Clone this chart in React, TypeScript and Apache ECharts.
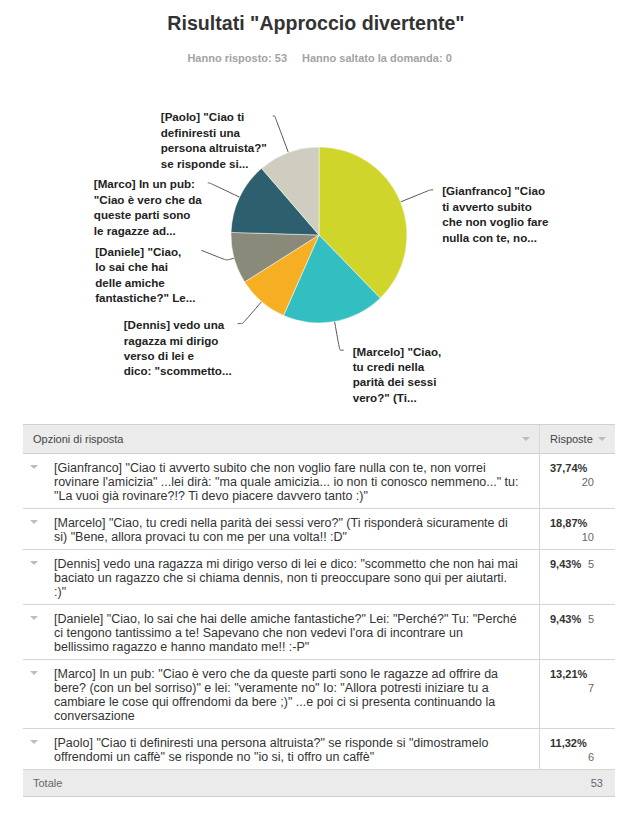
import React, { useEffect, useRef } from "react";
import * as echarts from "echarts";

// ---------- data ----------
const titleText = 'Risultati "Approccio divertente"';
const answeredText = "Hanno risposto: 53";
const skippedText = "Hanno saltato la domanda: 0";

const names = ["Gianfranco", "Marcelo", "Dennis", "Daniele", "Marco", "Paolo"];
const counts = [20, 10, 5, 5, 7, 6];
const percentLabels = ["37,74%", "18,87%", "9,43%", "9,43%", "13,21%", "11,32%"];
const totalLabel = "Totale";
const totalCount = 53;

const pieLabels = [
  '[Gianfranco] "Ciao\nti avverto subito\nche non voglio fare\nnulla con te, no...',
  '[Marcelo] "Ciao,\ntu credi nella\nparità dei sessi\nvero?" (Ti...',
  '[Dennis] vedo una\nragazza mi dirigo\nverso di lei e\ndico: "scommetto...',
  '[Daniele] "Ciao,\nlo sai che hai\ndelle amiche\nfantastiche?" Le...',
  '[Marco] In un pub:\n"Ciao è vero che da\nqueste parti sono\nle ragazze ad...',
  '[Paolo] "Ciao ti\ndefiniresti una\npersona altruista?"\nse risponde si...',
];

const answers = [
  '[Gianfranco] "Ciao ti avverto subito che non voglio fare nulla con te, non vorrei\nrovinare l\'amicizia" ...lei dirà: "ma quale amicizia... io non ti conosco nemmeno..." tu:\n"La vuoi già rovinare?!? Ti devo piacere davvero tanto :)"',
  '[Marcelo] "Ciao, tu credi nella parità dei sessi vero?" (Ti risponderà sicuramente di\nsi) "Bene, allora provaci tu con me per una volta!! :D"',
  '[Dennis] vedo una ragazza mi dirigo verso di lei e dico: "scommetto che non hai mai\nbaciato un ragazzo che si chiama dennis, non ti preoccupare sono qui per aiutarti.\n:)"',
  '[Daniele] "Ciao, lo sai che hai delle amiche fantastiche?" Lei: "Perché?" Tu: "Perché\nci tengono tantissimo a te! Sapevano che non vedevi l\'ora di incontrare un\nbellissimo ragazzo e hanno mandato me!! :-P"',
  '[Marco] In un pub: "Ciao è vero che da queste parti sono le ragazze ad offrire da\nbere? (con un bel sorriso)" e lei: "veramente no" Io: "Allora potresti iniziare tu a\ncambiare le cose qui offrendomi da bere ;)" ...e poi ci si presenta continuando la\nconversazione',
  '[Paolo] "Ciao ti definiresti una persona altruista?" se risponde si "dimostramelo\noffrendomi un caffè" se risponde no "io si, ti offro un caffè"',
];

const headerLeft = "Opzioni di risposta";
const headerRight = "Risposte";

// ---------- styles ----------
const colors = ["#d0d52b", "#33bec1", "#f6ae22", "#8a8a7a", "#2d5f6e", "#cfcdbf"];
const lineLengths: [number, number][] = [
  [32, 3],
  [29, 4],
  [29, 5],
  [8, 25],
  [33, 2],
  [39, 2],
];
// extra vertical nudge of a label (and its connector end), in px
const labelNudgeY = [0, 0, 0, -10, 0, 0];
const FONT = '"Liberation Sans", Arial, Helvetica, sans-serif';
const LABEL_LH = 15.4;

function Tri({ left, top }: { left: number; top: number }) {
  return (
    <div
      style={{
        position: "absolute",
        left,
        top,
        width: 0,
        height: 0,
        borderLeft: "4px solid transparent",
        borderRight: "4px solid transparent",
        borderTop: "4px solid #bdbdbd",
      }}
    />
  );
}

function Table() {
  const border = "1px solid #d6d6d6";
  return (
    <div
      style={{
        position: "absolute",
        left: 23,
        top: 424,
        width: 592,
        fontFamily: FONT,
        color: "#333",
      }}
    >
      <div
        style={{
          position: "relative",
          height: 28,
          background: "#ebebeb",
          borderTop: "1px solid #d0d0d0",
          borderBottom: "1px solid #d0d0d0",
          display: "flex",
        }}
      >
        <div style={{ width: 516, position: "relative", fontSize: 11, lineHeight: "28px", color: "#444" }}>
          <span style={{ marginLeft: 10 }}>{headerLeft}</span>
          <Tri left={499} top={12} />
        </div>
        <div
          style={{
            width: 75,
            borderLeft: "1px solid #d9d9d9",
            position: "relative",
            fontSize: 11,
            lineHeight: "28px",
            color: "#444",
          }}
        >
          <span style={{ marginLeft: 10 }}>{headerRight}</span>
          <Tri left={58} top={12} />
        </div>
      </div>
      {answers.map((a, i) => {
        const inline = percentLabels[i].length <= 5;
        return (
          <div key={i} style={{ display: "flex", borderBottom: border }}>
            <div style={{ width: 516, position: "relative", padding: "7px 0 5px 0" }}>
              <Tri left={7} top={11} />
              <div
                style={{
                  marginLeft: 31,
                  whiteSpace: "pre",
                  fontSize: 12.5,
                  lineHeight: "14px",
                }}
              >
                {a}
              </div>
            </div>
            <div style={{ width: 65, borderLeft: border, padding: "7px 0 5px 10px" }}>
              <div style={{ width: 44, position: "relative", lineHeight: "14px", height: inline ? 14 : 28 }}>
                <span style={{ position: "absolute", left: 0, top: 0, fontWeight: "bold", fontSize: 11 }}>
                  {percentLabels[i]}
                </span>
                <span
                  style={{
                    position: "absolute",
                    right: 0,
                    top: inline ? 0 : 14,
                    fontSize: 11,
                    color: "#666",
                  }}
                >
                  {counts[i]}
                </span>
              </div>
            </div>
          </div>
        );
      })}
      <div
        style={{
          height: 26,
          background: "#ebebeb",
          borderBottom: "1px solid #d0d0d0",
          display: "flex",
          fontSize: 11,
          lineHeight: "26px",
          color: "#666",
        }}
      >
        <div style={{ width: 516, paddingLeft: 10 }}>{totalLabel}</div>
        <div style={{ width: 54, textAlign: "right" }}>{totalCount}</div>
      </div>
    </div>
  );
}

export default function App() {
  const ref = useRef<HTMLDivElement>(null);
  useEffect(() => {
    if (!ref.current) return;
    const chart = echarts.init(ref.current, null, { renderer: "svg" });
    const option: any = {
      animation: false,
      graphic: [
        {
          type: "text",
          left: "center",
          top: 13,
          style: {
            text: titleText,
            fontFamily: FONT,
            fontWeight: "bold",
            fontSize: 19.6,
            fill: "#333",
          },
        },
        {
          type: "text",
          x: 287,
          y: 58,
          style: {
            text: answeredText,
            fontFamily: FONT,
            fontWeight: "bold",
            fontSize: 11,
            fill: "#a3a3a3",
            align: "right",
            verticalAlign: "middle",
          },
        },
        {
          type: "text",
          x: 302,
          y: 58,
          style: {
            text: skippedText,
            fontFamily: FONT,
            fontWeight: "bold",
            fontSize: 11,
            fill: "#a3a3a3",
            align: "left",
            verticalAlign: "middle",
          },
        },
      ],
      series: [
        {
          type: "pie",
          center: [319, 235],
          radius: 88,
          startAngle: 90,
          clockwise: true,
          avoidLabelOverlap: false,
          emphasis: { disabled: true },
          itemStyle: { borderColor: "#ffffff", borderWidth: 0.5 },
          label: {
            show: true,
            position: "outside",
            formatter: (p: any) => pieLabels[p.dataIndex],
            color: "#222",
            fontFamily: FONT,
            fontWeight: "bold",
            fontSize: 11.6,
            lineHeight: LABEL_LH,
            distanceToLabelLine: 6,
          },
          labelLine: {
            show: true,
            smooth: 0.2,
            lineStyle: { color: "#555", width: 1 },
          },
          labelLayout: (params: any) => {
            const pts = params.labelLinePoints;
            if (!pts || !pts.length) return {};
            const nudge = labelNudgeY[params.dataIndex] || 0;
            const start = pts[0];
            const end = pts[pts.length - 1];
            const r = params.labelRect;
            const isLeft = end[0] < start[0];
            const newPts = pts.map((p: number[], k: number) =>
              k === pts.length - 1 ? [p[0], p[1] + nudge] : [p[0], p[1]]
            );
            return {
              x: r.x + (isLeft ? 0 : 3),
              y: end[1] + nudge - LABEL_LH / 2 + 1,
              align: "left",
              verticalAlign: "top",
              labelLinePoints: newPts,
            };
          },
          data: names.map((n, i) => ({
            name: n,
            value: counts[i],
            itemStyle: { color: colors[i] },
            labelLine: { length: lineLengths[i][0], length2: lineLengths[i][1] },
          })),
        },
      ],
    };
    chart.setOption(option);
    return () => chart.dispose();
  }, []);

  return (
    <div
      style={{
        position: "absolute",
        left: 0,
        top: 0,
        width: 632,
        height: 814,
        background: "#fff",
        fontFamily: FONT,
      }}
    >
      <div ref={ref} style={{ position: "absolute", left: 0, top: 0, width: 632, height: 420 }} />
      <Table />
    </div>
  );
}
